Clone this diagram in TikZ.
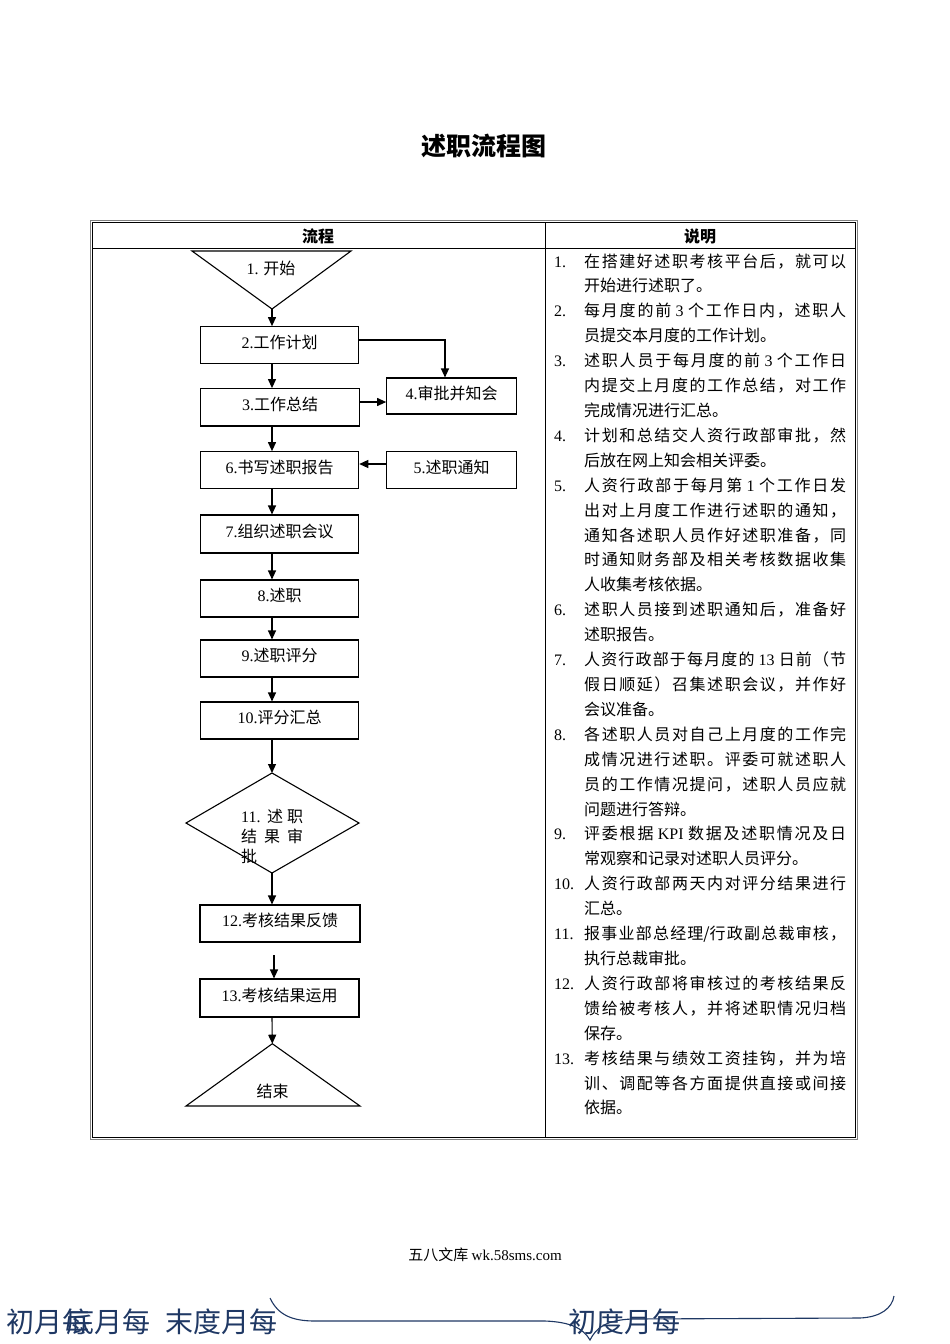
\documentclass[tikz,border=0pt]{standalone}
\usepackage{fontspec}
\setmainfont{Noto Sans CJK SC}
\newfontfamily\lat{Liberation Serif}
\usetikzlibrary{arrows.meta,calc}
\definecolor{navy}{RGB}{31,56,100}
\chardef\cjkcls=200
\count255="4E00
\loop
  \XeTeXcharclass\count255=\cjkcls
  \advance\count255 by 1
\ifnum\count255<"A000 \repeat
\count255="3000
\loop
  \XeTeXcharclass\count255=\cjkcls
  \advance\count255 by 1
\ifnum\count255<"3040 \repeat
\count255="FF01
\loop
  \XeTeXcharclass\count255=\cjkcls
  \advance\count255 by 1
\ifnum\count255<"FF60 \repeat
\XeTeXinterchartoks\cjkcls\cjkcls={\hskip 0pt plus 4pt\relax}
\newcommand\lt[1]{{\lat #1}}
\newcommand\jl[1]{\makebox[262pt][s]{\XeTeXinterchartokenstate=1 #1}}
\newcommand\dl[2]{\node[desc] (d#1) at (584,{267+24.91*#1}) {#2};}
\newcommand\dn[2]{\node[desc] (n#1) at (554,{267+24.91*#1}) {\lt{#2}};}
\tikzset{
  box/.style={draw, line width=1.1pt, minimum height=37pt, text height=12pt, text depth=6pt},
  arr/.style={line width=1.1pt, -{Triangle[length=9pt,width=8pt]}},
  ln/.style={line width=1.1pt},
  desc/.style={anchor=base west, inner sep=0pt},
  bottomtxt/.style={anchor=west, inner sep=0pt, text=navy, font=\fontsize{28}{30}\selectfont},
}
\begin{document}
\begin{tikzpicture}[x=1pt, y=-1pt, inner sep=0pt, font=\fontsize{16}{20}\selectfont]
\useasboundingbox (0,0) rectangle (950,1344);
\fill[white] (0,0) rectangle (950,1344);

% title
\node[font=\fontsize{25}{28}\selectfont\bfseries] (title) at (484,146) {述职流程图};

% table
\draw[gray, line width=1pt] (90,220) rectangle (857,1139);
\draw[black, line width=1pt] (92,222) rectangle (855,1137);
\draw[black, line width=1pt] (92,248) -- (855,248);
\draw[black, line width=1pt] (545,222) -- (545,1137);
\node[font=\fontsize{16}{20}\selectfont\bfseries] (h1) at (318,236) {流程};
\node[font=\fontsize{16}{20}\selectfont\bfseries] (h2) at (700,236) {说明};

% flow
\coordinate (sp) at (272,0);
\coordinate (stl) at (192,251);
\coordinate (str) at (351,251);
\coordinate (starttip) at (272,309);
\draw[ln, line join=miter] (stl) -- (str) -- (starttip) -- cycle;
\node (start) at (271,268) {\lt{1.} 开始};

\node[box, minimum width=158pt] (b2) at (279.7,345.2) {\lt{2.}工作计划};
\node[box, minimum width=158.6pt, minimum height=37.3pt] (b3) at (280,407.3) {\lt{3.}工作总结};
\node[box, minimum width=130pt, minimum height=36pt] (b4) at (451.7,396) {\lt{4.}审批并知会};
\node[box, minimum width=158pt] (b6) at (279.7,470.2) {\lt{6.}书写述职报告};
\node[box, minimum width=130pt, minimum height=36.6pt] (b5) at (451.7,470) {\lt{5.}述职通知};
\node[box, minimum width=158pt, minimum height=38pt] (b7) at (279.5,534) {\lt{7.}组织述职会议};
\node[box, minimum width=158pt] (b8) at (279.5,598.5) {\lt{8.}述职};
\node[box, minimum width=158pt] (b9) at (279.5,658.5) {\lt{9.}述职评分};
\node[box, minimum width=158pt] (b10) at (279.5,720.5) {\lt{10.}评分汇总};

\coordinate (dtop) at (272,773);
\coordinate (dright) at (359,823);
\coordinate (dbot) at (272,873);
\coordinate (dleft) at (186,823);
\draw[ln, line join=miter] (dtop) -- (dright) -- (dbot) -- (dleft) -- cycle;
\node[desc] (dt1) at (241,822) {\makebox[62pt][s]{\lt{11.} 述 职}};
\node[desc] (dt2) at (241,842.5) {\makebox[62pt][s]{结 果 审}};
\node[desc] (dt3) at (241,862.5) {批};

\node[box, minimum width=160pt] (b12) at (280,923.5) {\lt{12.}考核结果反馈};
\coordinate (g12) at (274,955);
\node[box, minimum width=159pt, minimum height=38pt] (b13) at (279.5,998) {\lt{13.}考核结果运用};

\coordinate (etop) at (272.3,1043.7);
\coordinate (eleft) at (186,1106);
\coordinate (eright) at (360,1106);
\draw[ln, line join=miter] (etop) -- (eright) -- (eleft) -- cycle;
\node (endn) at (272.5,1091) {结束};

% connectors
\draw[arr] (starttip) -- (starttip |- b2.north);
\draw[arr] (b2.south -| sp) -- (b3.north -| sp);
\draw[arr] ([yshift=5.2pt]b2.east) -| ([xshift=-6.7pt]b4.north);
\draw[arr] ([yshift=5.3pt]b3.east) -- ([yshift=5.3pt]b3.east -| b4.west);
\draw[arr] (b3.south -| sp) -- (b6.north -| sp);
\draw[arr] ([yshift=6pt]b5.west) -- ([yshift=6pt]b5.west -| b6.east);
\draw[arr] (b6.south -| sp) -- (b7.north -| sp);
\draw[arr] (b7.south -| sp) -- (b8.north -| sp);
\draw[arr] (b8.south -| sp) -- (b9.north -| sp);
\draw[arr] (b9.south -| sp) -- (b10.north -| sp);
\draw[arr] (b10.south -| sp) -- (dtop);
\draw[arr] (dbot) -- (dbot |- b12.north);
\draw[arr] (g12) -- (g12 |- b13.north);
\draw[arr] (b13.south -| sp) -- (etop);

% description
\dn{0}{1.}  \dl{0}{\jl{在搭建好述职考核平台后，就可以}}
\dl{1}{开始进行述职了。}
\dn{2}{2.}  \dl{2}{\jl{每月度的前 \lt{3} 个工作日内，述职人}}
\dl{3}{员提交本月度的工作计划。}
\dn{4}{3.}  \dl{4}{\jl{述职人员于每月度的前 \lt{3} 个工作日}}
\dl{5}{\jl{内提交上月度的工作总结，对工作}}
\dl{6}{完成情况进行汇总。}
\dn{7}{4.}  \dl{7}{\jl{计划和总结交人资行政部审批，然}}
\dl{8}{后放在网上知会相关评委。}
\dn{9}{5.}  \dl{9}{\jl{人资行政部于每月第 \lt{1} 个工作日发}}
\dl{10}{\jl{出对上月度工作进行述职的通知，}}
\dl{11}{\jl{通知各述职人员作好述职准备，同}}
\dl{12}{\jl{时通知财务部及相关考核数据收集}}
\dl{13}{人收集考核依据。}
\dn{14}{6.} \dl{14}{\jl{述职人员接到述职通知后，准备好}}
\dl{15}{述职报告。}
\dn{16}{7.} \dl{16}{\jl{人资行政部于每月度的 \lt{13} 日前（节}}
\dl{17}{\jl{假日顺延）召集述职会议，并作好}}
\dl{18}{会议准备。}
\dn{19}{8.} \dl{19}{\jl{各述职人员对自己上月度的工作完}}
\dl{20}{\jl{成情况进行述职。评委可就述职人}}
\dl{21}{\jl{员的工作情况提问，述职人员应就}}
\dl{22}{问题进行答辩。}
\dn{23}{9.} \dl{23}{\jl{评委根据 \lt{KPI} 数据及述职情况及日}}
\dl{24}{常观察和记录对述职人员评分。}
\dn{25}{10.} \dl{25}{\jl{人资行政部两天内对评分结果进行}}
\dl{26}{汇总。}
\dn{27}{11.} \dl{27}{\jl{报事业部总经理/行政副总裁审核，}}
\dl{28}{执行总裁审批。}
\dn{29}{12.} \dl{29}{\jl{人资行政部将审核过的考核结果反}}
\dl{30}{\jl{馈给被考核人，并将述职情况归档}}
\dl{31}{保存。}
\dn{32}{13.} \dl{32}{\jl{考核结果与绩效工资挂钩，并为培}}
\dl{33}{\jl{训、调配等各方面提供直接或间接}}
\dl{34}{依据。}

% footer
\node[font=\fontsize{15}{17}\selectfont] (footer) at (485,1255) {五八文库 \lt{wk.58sms.com}};

% bottom artefacts
\node[bottomtxt] (bt1) at (6,1322) {初月每};
\node[bottomtxt] (bt2) at (66,1322) {底月每};
\node[bottomtxt] (bt3) at (165,1322) {末度月每};
\node[bottomtxt] (bt4) at (568,1322) {初度月每};
\draw[navy, line width=1.1pt] (270,1298) .. controls (278,1315) and (292,1321) .. (315,1321)
  -- (545,1321) .. controls (570,1322) and (583,1328) .. (590,1340)
  .. controls (596,1328) and (606,1320) .. (632,1319)
  -- (860,1318) .. controls (881,1317) and (892,1308) .. (894,1296);
\end{tikzpicture}
\end{document}
